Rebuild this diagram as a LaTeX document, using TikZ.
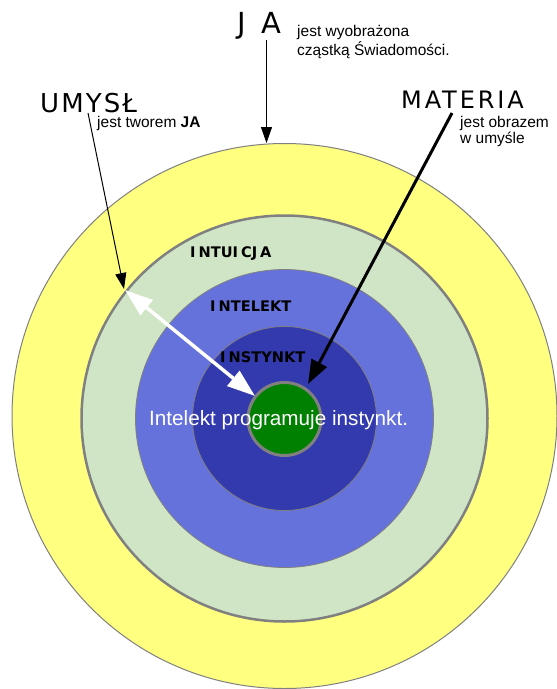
\documentclass[tikz,border=0pt]{standalone}
\usepackage{fontspec}
\setmainfont{Liberation Sans}
\newfontfamily\titlefont{DejaVu Sans}
\newfontfamily\ringfont{DejaVu Sans}
\usetikzlibrary{arrows.meta}

\definecolor{ringyellow}{HTML}{FFFF80}
\definecolor{ringsage}{HTML}{CFE5C5}
\definecolor{ringblue}{HTML}{6672DC}
\definecolor{ringnavy}{HTML}{333AAD}
\definecolor{coregreen}{HTML}{008000}
\definecolor{rimgray}{HTML}{808080}

\tikzset{
  ring/.style={circle, inner sep=0pt, outer sep=0pt, draw=rimgray},
  bigword/.style={inner sep=0pt, anchor=base west},
  note/.style={inner sep=0pt, anchor=base west, align=left},
  ringlabel/.style={font=\ringfont\bfseries\fontsize{14.6}{14.6}\selectfont, inner sep=0pt, anchor=west},
  thinarrow/.style={draw=black, line width=1pt, -{Triangle[length=16pt,width=11pt]}},
  heavyarrow/.style={draw=black, line width=3pt, -{Triangle[length=24pt,width=17pt]}},
  whitearrow/.style={draw=white, line width=3.5pt,
    {Triangle[length=28pt,width=19pt]}-{Triangle[length=28pt,width=19pt]}}
}

\begin{document}
\begin{tikzpicture}[x=1pt, y=-1pt]
\useasboundingbox (0,0) rectangle (557,689);
\fill[white] (0,0) rectangle (557,689);

% concentric spheres
\node[ring, fill=ringyellow, line width=1pt, minimum size=545pt] (outer) at (284.5,416) {};
\node[ring, fill=ringsage, line width=2.5pt, minimum size=406pt] (intuition) at (284.5,418.5) {};
\node[ring, fill=ringblue, line width=0.8pt, minimum size=298pt] (intellect) at (284.5,418.5) {};
\node[ring, fill=ringnavy, line width=0.8pt, minimum size=184pt] (instinct) at (284.5,418.5) {};
\node[ring, fill=coregreen, line width=3pt, minimum size=73pt] (core) at (284.5,419) {};

% ring names
\node[ringlabel] (lintuicja) at (190,254) {I\kern3pt NTUI\kern3pt CJ\kern3pt A};
\node[ringlabel] (lintelekt) at (210,306) {I\kern3pt NTELEKT};
\node[ringlabel] (linstynkt) at (220,357) {I\kern3pt NSTYNKT};
\node[font=\fontsize{20.7}{20.7}\selectfont, text=white, inner sep=0pt, anchor=base west]
  (motto) at (149,425) {Intelekt programuje instynkt.};

% headings (multi-line notes are anchored on the baseline of their last line)
\node[bigword, font=\titlefont\fontsize{29}{29}\selectfont\addfontfeature{LetterSpace=55}] (ja) at (237,33) {JA};
\node[note, font=\fontsize{15.5}{18.3}\selectfont] (janote) at (297,55) {jest wyobrażona\\cząstką Świadomości.};
\node[bigword, font=\titlefont\fontsize{26}{26}\selectfont\addfontfeature{LetterSpace=8}] (umysl) at (40,112) {UMYSŁ};
\node[note, font=\fontsize{15.5}{17}\selectfont] (umyslnote) at (97,127) {jest tworem \textbf{JA}};
\node[bigword, font=\titlefont\fontsize{24}{24}\selectfont\addfontfeature{LetterSpace=12}] (materia) at (401,108) {MATERIA};
\node[note, font=\fontsize{15.5}{16}\selectfont] (materianote) at (460,143.3) {jest obrazem\\w umyśle};

% arrow endpoints
\coordinate (jafrom) at (266.5,40);
\coordinate (jato) at (266.5,143);
\coordinate (umfrom) at (88,113);
\coordinate (umto) at (124,289);
\coordinate (matfrom) at (452,113);
\coordinate (matto) at (308,384);
\coordinate (wa) at (125,290);
\coordinate (wb) at (255,396);

\draw[thinarrow] (jafrom) -- (jato);
\draw[thinarrow] (umfrom) -- (umto);
\draw[heavyarrow] (matfrom) -- (matto);
\draw[whitearrow] (wa) -- (wb);
\end{tikzpicture}
\end{document}
